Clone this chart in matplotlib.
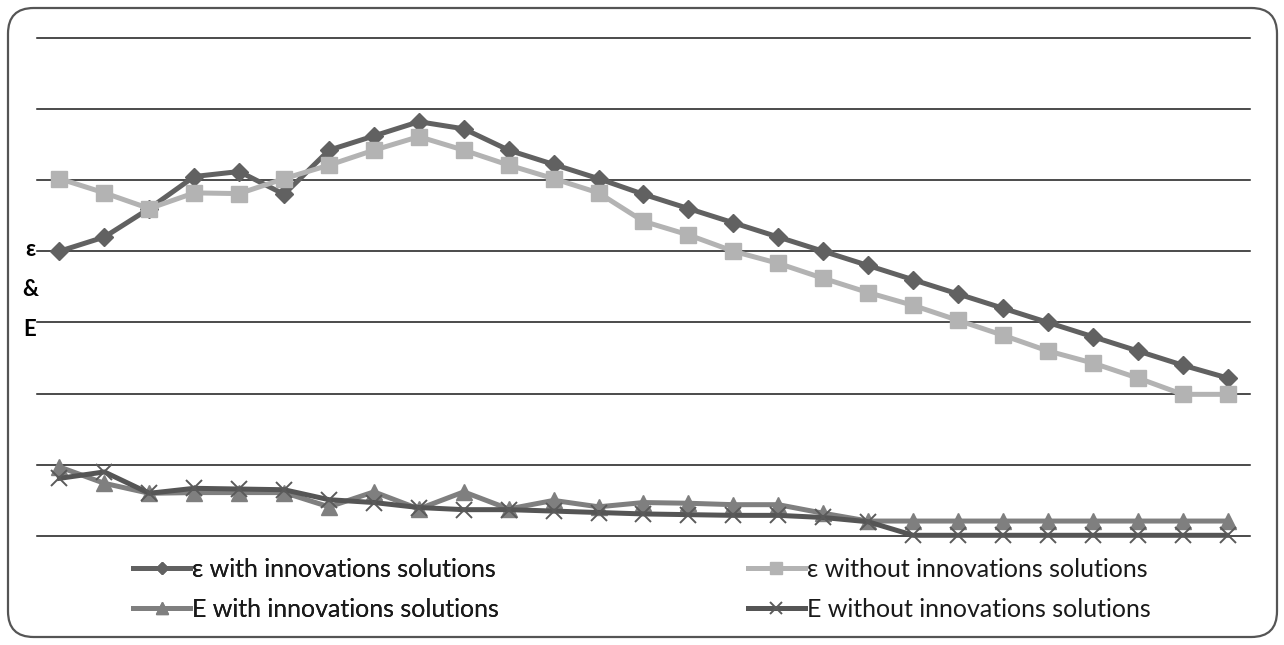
import matplotlib
matplotlib.use("Agg")
import matplotlib.pyplot as plt
from matplotlib.patches import FancyBboxPatch
from matplotlib.lines import Line2D

plt.rcParams['font.family'] = ['Lato', 'Open Sans', 'DejaVu Sans']

# ---- data (y in gridline units, 0..7) ----
periods = list(range(1, 28))
eps_with = [4.0, 4.2, 4.6, 5.05, 5.12, 4.8, 5.42, 5.62, 5.82, 5.72, 5.42, 5.22, 5.02,
            4.8, 4.6, 4.4, 4.2, 4.0, 3.8, 3.6, 3.4, 3.2, 3.0, 2.8, 2.6, 2.4, 2.22]
eps_without = [5.02, 4.82, 4.6, 4.82, 4.81, 5.02, 5.21, 5.42, 5.61, 5.42, 5.21, 5.02, 4.82,
               4.42, 4.23, 4.0, 3.83, 3.62, 3.42, 3.24, 3.03, 2.82, 2.6, 2.43, 2.22, 1.99, 1.99]
E_with = [0.97, 0.74, 0.6, 0.61, 0.61, 0.61, 0.41, 0.62, 0.38, 0.62, 0.38, 0.5, 0.41,
          0.47, 0.46, 0.44, 0.44, 0.32, 0.21, 0.21, 0.21, 0.21, 0.21, 0.21, 0.21, 0.21, 0.21]
E_without = [0.81, 0.9, 0.6, 0.67, 0.66, 0.65, 0.51, 0.47, 0.4, 0.37, 0.37, 0.35, 0.33,
             0.31, 0.3, 0.29, 0.29, 0.26, 0.2, 0.01, 0.01, 0.01, 0.01, 0.01, 0.01, 0.01, 0.01]
labels = ["ε with innovations solutions", "ε without innovations solutions",
          "E with innovations solutions", "E without innovations solutions"]
y_ticks = [0, 1, 2, 3, 4, 5, 6, 7]

W, H = 1284, 645
fig = plt.figure(figsize=(W / 100, H / 100), dpi=100)

# rounded outer border
border = FancyBboxPatch((8 / W, 8 / H), (1277 - 8) / W, (637 - 8) / H,
                        boxstyle="round,pad=0,rounding_size=0.02",
                        transform=fig.transFigure, facecolor='none',
                        edgecolor='#555555', lw=1.6, mutation_aspect=W / H, zorder=-1)
fig.patches.append(border)

ax = fig.add_axes([37 / W, 1 - 536 / H, (1250 - 37) / W, (536 - 37.7) / H])
ax.patch.set_alpha(0)
ax.set_xlim(-0.5, len(periods) - 0.5)
ax.set_ylim(y_ticks[0], y_ticks[-1])
for s in ax.spines.values():
    s.set_visible(False)
ax.set_xticks([])
ax.set_yticks([])
for yv in y_ticks:
    ax.axhline(yv, color='#1a1a1a', lw=1.1, zorder=1, clip_on=False)

x = list(range(len(periods)))
styles = [
    dict(color='#616161', marker='D', ms=9.0, lw=3.6, mec='#616161'),
    dict(color='#b3b3b3', marker='s', ms=11.5, lw=3.6, mec='#b3b3b3'),
    dict(color='#7f7f7f', marker='^', ms=12, lw=3.6, mec='#7f7f7f'),
    dict(color='#555555', marker='x', ms=12, lw=3.6, mec='#5a5a5a', mew=1.4),
]
series = [eps_with, eps_without, E_with, E_without]
for i, (vals, st) in enumerate(zip(series, styles)):
    ax.plot(x, vals, zorder=3 + i, clip_on=False, solid_joinstyle='round', **st)

# legend handles (smaller markers like the reference)
def lh(st, scale=0.7):
    d = dict(st)
    d['ms'] = st['ms'] * scale
    return Line2D([], [], **d)

lhs = [lh(s) for s in styles]
fs = 18
common = dict(loc='upper left', frameon=False, fontsize=fs, handlelength=2.28,
              handletextpad=0.1, labelspacing=0.68, borderpad=0, borderaxespad=0,
              numpoints=1)
leg1 = fig.legend([lhs[0], lhs[2]], [labels[0], labels[2]],
                  bbox_to_anchor=(133 / W, 1 - 558 / H), **common)
fig.add_artist(leg1)
leg2 = fig.legend([lhs[1], lhs[3]], [labels[1], labels[3]],
                  bbox_to_anchor=(748 / W, 1 - 558 / H), **common)
for lg in (leg1, leg2):
    for t in lg.get_texts():
        t.set_color('#1a1a1a')

# stacked y label
for txt, yp in (("ε", 250), ("&", 290), ("E", 330)):
    fig.text(30 / W, 1 - yp / H, txt, ha='center', va='center', fontsize=16,
             fontweight='bold', color='black')

fig.savefig("out.png", dpi=100)
